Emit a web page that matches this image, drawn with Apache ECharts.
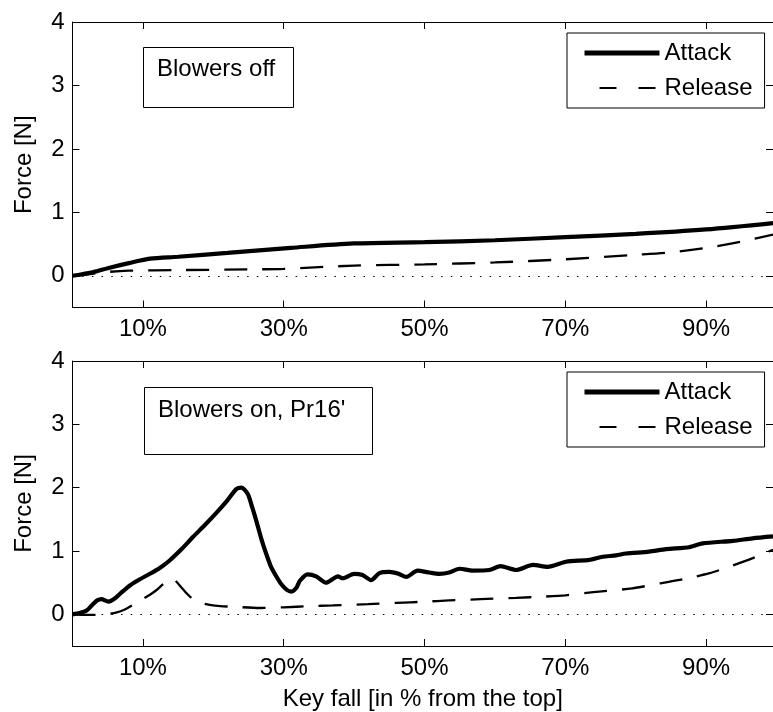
<!DOCTYPE html>
<html>
<head>
<meta charset="utf-8">
<script src="https://cdn.jsdelivr.net/npm/echarts@6/dist/echarts.min.js"></script>
<style>
html,body{margin:0;padding:0;background:#fff;}
#chart{width:773px;height:712px;}
</style>
</head>
<body>
<div id="chart"></div>
<script>
// ---- data (x = key fall in %, y = force in N) ----
var seriesNames = ['Attack', 'Release'];
var panelTitles = ['Blowers off', "Blowers on, Pr16'"];
var xTickValues = [10, 30, 50, 70, 90];
var yTickValues = [0, 1, 2, 3, 4];
var xAxisName = 'Key fall [in % from the top]';
var yAxisName = 'Force [N]';

var topAttack = [[0,0],[3,0.06],[5,0.12],[8,0.2],[11,0.27],[15,0.3],[22,0.36],[31,0.44],[40,0.51],[50,0.53],[60,0.56],[70,0.61],[80,0.66],[90,0.73],[99.5,0.83]];
var topRelease = [[0,0],[2,0.02],[5,0.06],[8,0.08],[15,0.09],[25,0.1],[30,0.11],[40,0.16],[50,0.18],[60,0.21],[70,0.26],[80,0.33],[85,0.37],[90,0.44],[95,0.54],[99.5,0.65]];

var bottomAttack = [[0,0],[1,0.02],[2,0.06],[3,0.17],[3.5,0.22],[4.1,0.24],[5.1,0.2],[6,0.25],[7,0.35],[8.2,0.46],[9.5,0.55],[11,0.64],[12.5,0.74],[13.8,0.85],[15.5,1.03],[17.1,1.22],[18.8,1.41],[20.5,1.61],[22,1.8],[23.3,1.98],[24,2.0],[24.9,1.9],[25.5,1.7],[26.1,1.48],[26.8,1.2],[27.5,0.96],[28.2,0.75],[29,0.59],[29.7,0.47],[30.4,0.39],[31.1,0.36],[31.8,0.42],[32.3,0.53],[33.4,0.63],[34.6,0.6],[36,0.5],[37,0.56],[37.7,0.6],[38.4,0.57],[40,0.64],[41.2,0.62],[42.4,0.54],[43.6,0.65],[45,0.67],[46.3,0.64],[47.4,0.59],[49,0.69],[50.7,0.66],[52.1,0.64],[53.5,0.66],[55,0.72],[56.8,0.69],[59.2,0.7],[60.8,0.76],[63,0.7],[65.4,0.78],[67.5,0.75],[70.1,0.83],[73.4,0.86],[75.3,0.91],[77.2,0.93],[78.6,0.96],[81.9,0.99],[84.3,1.03],[87.6,1.06],[89.5,1.12],[93.8,1.16],[96.6,1.2],[99.5,1.23]];
var bottomRelease = [[0,0],[2,-0.01],[4,-0.01],[6.3,0.03],[7.5,0.08],[8.6,0.15],[9.8,0.23],[11,0.31],[11.9,0.38],[13,0.49],[13.8,0.55],[14.3,0.56],[14.8,0.51],[15.5,0.42],[16.3,0.32],[17.1,0.24],[18.3,0.18],[19.5,0.15],[21,0.13],[22.8,0.12],[26.6,0.1],[30,0.11],[33.7,0.13],[37,0.14],[42,0.16],[46,0.18],[50,0.2],[53.5,0.22],[58,0.24],[63,0.26],[67,0.28],[70,0.3],[74,0.35],[79.5,0.41],[83.5,0.49],[87,0.56],[90.5,0.65],[93,0.74],[96,0.86],[99.5,1.02]];

var xMin = 0, xMax = 99.5, yMin = -0.5, yMax = 4;

// ---- chart ----
var FONT = "'Liberation Sans', Arial, Helvetica, sans-serif";
var FS = 24;
var chart = echarts.init(document.getElementById('chart'), null, {renderer: 'canvas'});

var grids = [
  {left: 72.5, right: 0, top: 22, height: 285.5},
  {left: 72.5, right: 0, top: 361, height: 285}
];

function xAxes(g, isLast) {
  return [{
    type: 'value', gridIndex: g, min: xMin, max: xMax, position: 'bottom',
    axisLine: {show: true, onZero: false, lineStyle: {color: '#000', width: 1}},
    axisTick: {show: true, inside: true, length: 7, customValues: xTickValues, lineStyle: {color: '#000'}},
    axisLabel: {show: true, customValues: xTickValues, formatter: '{value}%', margin: 10,
      color: '#000', fontFamily: FONT, fontSize: FS},
    splitLine: {show: false},
    name: isLast ? xAxisName : '', nameLocation: 'middle', nameGap: 41,
    nameTextStyle: {color: '#000', fontFamily: FONT, fontSize: FS}
  }, {
    type: 'value', gridIndex: g, min: xMin, max: xMax, position: 'top',
    axisLine: {show: true, onZero: false, lineStyle: {color: '#000', width: 1}},
    axisTick: {show: true, inside: true, length: 7, customValues: xTickValues, lineStyle: {color: '#000'}},
    axisLabel: {show: false}, splitLine: {show: false}
  }];
}
function yAxes(g) {
  return [{
    type: 'value', gridIndex: g, min: yMin, max: yMax, position: 'left',
    axisLine: {show: true, onZero: false, lineStyle: {color: '#000', width: 1}},
    axisTick: {show: true, inside: true, length: 7, customValues: yTickValues, lineStyle: {color: '#000'}},
    axisLabel: {show: true, customValues: yTickValues, margin: 8, color: '#000', fontFamily: FONT, fontSize: FS},
    splitLine: {show: false},
    name: yAxisName, nameLocation: 'middle', nameGap: 36, nameRotate: 90,
    nameTextStyle: {color: '#000', fontFamily: FONT, fontSize: FS}
  }, {
    type: 'value', gridIndex: g, min: yMin, max: yMax, position: 'right',
    axisLine: {show: true, onZero: false, lineStyle: {color: '#000', width: 1}},
    axisTick: {show: true, inside: true, length: 7, customValues: yTickValues, lineStyle: {color: '#000'}},
    axisLabel: {show: false}, splitLine: {show: false}
  }];
}

var zeroLine = {
  silent: true, symbol: 'none', label: {show: false},
  lineStyle: {color: '#000', width: 1.2, type: [1.5, 8.2]},
  data: [{yAxis: 0}], animation: false
};

function lineSeries(name, data, g, isAttack, smooth, withZero) {
  var s = {
    name: name, type: 'line', xAxisIndex: g * 2, yAxisIndex: g * 2,
    data: data, symbol: 'none', smooth: smooth, animation: false,
    itemStyle: {color: '#000'},
    lineStyle: isAttack ? {color: '#000', width: 4.2} : {color: '#000', width: 2.3, type: [23, 15]},
    z: isAttack ? 3 : 2
  };
  if (withZero) s.markLine = zeroLine;
  return s;
}

function legendFor(top) {
  return {
    orient: 'vertical', left: 567, top: top,
    backgroundColor: '#fff', borderColor: '#000', borderWidth: 1, borderRadius: 0,
    padding: [8, 12, 8, 15], itemWidth: 75, itemHeight: 14, itemGap: 11,
    selectedMode: false,
    textStyle: {color: '#000', fontFamily: FONT, fontSize: FS, lineHeight: 24},
    data: [
      {name: seriesNames[0], itemStyle: {opacity: 0}, lineStyle: {color: '#000', width: 5, type: 'solid'}},
      {name: seriesNames[1], itemStyle: {opacity: 0}, lineStyle: {color: '#000', width: 2, type: [17, 22], dashOffset: 24}}
    ]
  };
}

function panelTitle(text, left, top, pad) {
  return {
    text: text, left: left, top: top, padding: pad,
    borderColor: '#000', borderWidth: 1, backgroundColor: '#fff',
    textStyle: {color: '#000', fontFamily: FONT, fontSize: FS, fontWeight: 'normal', lineHeight: 24}
  };
}

var option = {
  backgroundColor: '#fff',
  animation: false,
  title: [
    panelTitle(panelTitles[0], 143, 47, [10, 18, 27, 14]),
    panelTitle(panelTitles[1], 144, 387, [11, 27, 33, 14])
  ],
  legend: [legendFor(33), legendFor(372)],
  grid: grids,
  xAxis: xAxes(0, false).concat(xAxes(1, true)),
  yAxis: yAxes(0).concat(yAxes(1)),
  series: [
    lineSeries(seriesNames[0], topAttack, 0, true, 0.3, false),
    lineSeries(seriesNames[1], topRelease, 0, false, 0.3, true),
    lineSeries(seriesNames[0], bottomAttack, 1, true, 0.25, false),
    lineSeries(seriesNames[1], bottomRelease, 1, false, 0.25, true)
  ]
};
chart.setOption(option);
</script>
</body>
</html>
